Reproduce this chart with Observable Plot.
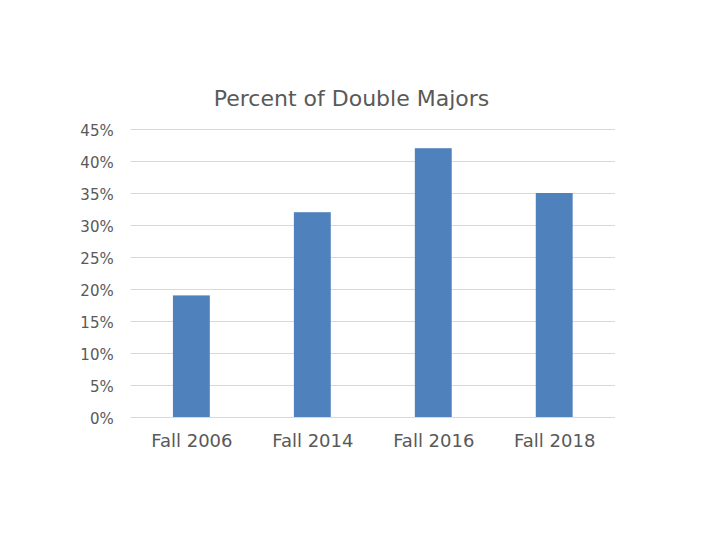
<!DOCTYPE html>
<html>
<head>
<meta charset="utf-8">
<script src="https://cdn.jsdelivr.net/npm/d3@7"></script>
<script src="https://cdn.jsdelivr.net/npm/@observablehq/plot@0.6"></script>
<style>
  body { margin: 0; background: #fff; }
  #wrap { position: relative; width: 720px; height: 540px; }
  #title { position: absolute; top: 86px; left: 0; width: 703px; text-align: center;
    font-family: "DejaVu Sans", sans-serif; font-size: 22px; color: #595959; }
  #chart { position: absolute; top: 0; left: 0; }
</style>
</head>
<body>
<div id="wrap">
  <div id="chart"></div>
  <div id="title">Percent of Double Majors</div>
</div>
<script>
const categories = ["Fall 2006", "Fall 2014", "Fall 2016", "Fall 2018"];
const values = [19, 32, 42, 35];
const yTicks = [0, 5, 10, 15, 20, 25, 30, 35, 40, 45];

const data = categories.map((c, i) => ({category: c, value: values[i]}));

const chart = Plot.plot({
  width: 720,
  height: 540,
  marginLeft: 130.6,
  marginRight: 105,
  marginTop: 129,
  marginBottom: 123,
  style: {fontFamily: "DejaVu Sans, sans-serif", color: "#595959", background: "transparent"},
  x: {domain: categories, paddingInner: 0.695, paddingOuter: 0.35, round: false, label: null},
  y: {domain: [0, 45], ticks: yTicks, label: null},
  marks: [
    Plot.gridY(yTicks, {stroke: "#d9d9d9", strokeOpacity: 1, strokeWidth: 1}),
    Plot.barY(data, {x: "category", y: "value", fill: "#4f81bd"}),
    Plot.axisY(yTicks, {tickSize: 0, tickPadding: 17.4, tickFormat: d => d + "%", fontSize: 15, fill: "#595959", label: null, dy: 2}),
    Plot.axisX({tickSize: 0, tickPadding: 17, fontSize: 18, fill: "#595959", label: null})
  ]
});
document.getElementById("chart").appendChild(chart);
</script>
</body>
</html>
